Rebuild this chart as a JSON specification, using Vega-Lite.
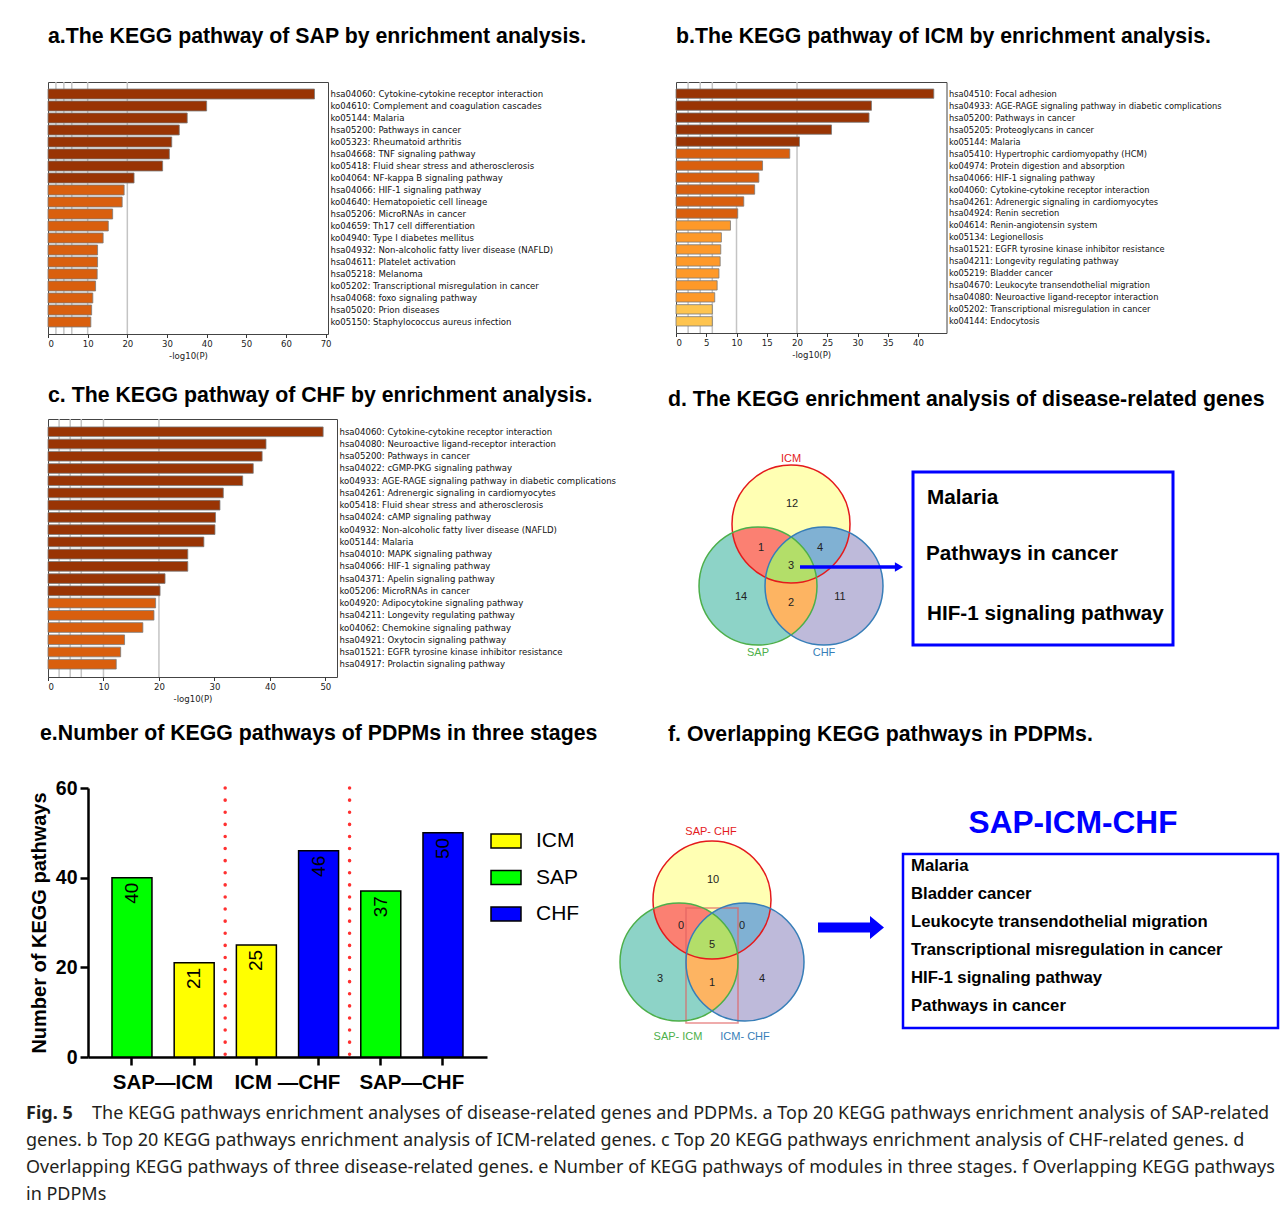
{
  "$schema": "https://vega.github.io/schema/vega-lite/v6.json",
  "background": "white",
  "padding": {"left": 26, "top": 25, "right": 5, "bottom": 5},
  "config": {
    "view": {"stroke": null},
    "title": {"font": "Liberation Sans", "fontSize": 21.3, "fontWeight": "bold", "anchor": "start", "frame": "group", "color": "black"},
    "text": {"font": "Liberation Sans"}
  },
  "spacing": 7,
  "vconcat": [
    {
      "columns": 2,
      "bounds": "flush",
      "align": "none",
      "spacing": {"row": 85, "column": 189},
      "resolve": {"scale": {"color": "independent", "fill": "independent", "stroke": "independent", "shape": "independent"}},
      "concat": [
        {
          "width": 280, "height": 252,
          "view": {"stroke": "#444", "strokeWidth": 1},
          "title": {"text": "a.The KEGG pathway of SAP by enrichment analysis.", "offset": 34},
          "data": {"values": [
            {"term": "hsa04060: Cytokine-cytokine receptor interaction", "logp": 67.2, "tier": "t1"},
            {"term": "ko04610: Complement and coagulation cascades", "logp": 40.0, "tier": "t1"},
            {"term": "ko05144: Malaria", "logp": 35.1, "tier": "t1"},
            {"term": "hsa05200: Pathways in cancer", "logp": 33.1, "tier": "t1"},
            {"term": "ko05323: Rheumatoid arthritis", "logp": 31.2, "tier": "t1"},
            {"term": "hsa04668: TNF signaling pathway", "logp": 30.6, "tier": "t1"},
            {"term": "ko05418: Fluid shear stress and atherosclerosis", "logp": 28.9, "tier": "t1"},
            {"term": "ko04064: NF-kappa B signaling pathway", "logp": 21.7, "tier": "t1"},
            {"term": "hsa04066: HIF-1 signaling pathway", "logp": 19.2, "tier": "t2"},
            {"term": "ko04640: Hematopoietic cell lineage", "logp": 18.7, "tier": "t2"},
            {"term": "hsa05206: MicroRNAs in cancer", "logp": 16.3, "tier": "t2"},
            {"term": "ko04659: Th17 cell differentiation", "logp": 15.2, "tier": "t2"},
            {"term": "ko04940: Type I diabetes mellitus", "logp": 13.9, "tier": "t2"},
            {"term": "hsa04932: Non-alcoholic fatty liver disease (NAFLD)", "logp": 12.5, "tier": "t2"},
            {"term": "hsa04611: Platelet activation", "logp": 12.5, "tier": "t2"},
            {"term": "hsa05218: Melanoma", "logp": 12.4, "tier": "t2"},
            {"term": "ko05202: Transcriptional misregulation in cancer", "logp": 12.0, "tier": "t2"},
            {"term": "hsa04068: foxo signaling pathway", "logp": 11.3, "tier": "t2"},
            {"term": "hsa05020: Prion diseases", "logp": 11.0, "tier": "t2"},
            {"term": "ko05150: Staphylococcus aureus infection", "logp": 10.8, "tier": "t2"}
          ]},
          "encoding": {
            "x": {"field": "logp", "type": "quantitative", "scale": {"domain": [0, 70.6], "nice": false},
              "axis": {"values": [0, 10, 20, 30, 40, 50, 60, 70], "grid": false, "domain": false, "tickSize": 3.5, "tickColor": "#333", "labelFont": "DejaVu Sans Condensed, DejaVu Sans", "labelFontSize": 9.5, "labelColor": "#222", "labelPadding": 1, "title": "-log10(P)", "titleFont": "DejaVu Sans Condensed, DejaVu Sans", "titleFontSize": 9.5, "titleFontWeight": "normal", "titleColor": "#222", "titlePadding": 2}}
          },
          "layer": [
            {"data": {"values": [{"logp": 2}, {"logp": 4}, {"logp": 6}, {"logp": 10}, {"logp": 20}]},
             "mark": {"type": "rule", "color": "#c4c4c4", "strokeWidth": 1.5}, "encoding": {}},
            {"mark": {"type": "bar", "stroke": "#7a7a7a", "strokeWidth": 0.8},
             "encoding": {
               "y": {"field": "term", "type": "nominal", "sort": null, "scale": {"paddingInner": 0.17, "paddingOuter": 0.585},
                 "axis": {"orient": "right", "ticks": false, "domain": false, "labelFont": "DejaVu Sans Condensed, DejaVu Sans", "labelFontSize": 9.5, "labelColor": "#111", "labelPadding": 2, "labelLimit": 600, "title": null}},
               "color": {"field": "tier", "type": "nominal", "scale": {"domain": ["t1", "t2", "t3", "t4"], "range": ["#993404", "#d95f0e", "#fe9929", "#fec44f"]}, "legend": null}
             }}
          ]
        },
        {
          "width": 270.5, "height": 251,
          "view": {"stroke": "#444", "strokeWidth": 1},
          "title": {"text": "b.The KEGG pathway of ICM by enrichment analysis.", "offset": 34},
          "data": {"values": [
            {"term": "hsa04510: Focal adhesion", "logp": 42.6, "tier": "t1"},
            {"term": "hsa04933: AGE-RAGE signaling pathway in diabetic complications", "logp": 32.3, "tier": "t1"},
            {"term": "hsa05200: Pathways in cancer", "logp": 31.9, "tier": "t1"},
            {"term": "hsa05205: Proteoglycans in cancer", "logp": 25.7, "tier": "t1"},
            {"term": "ko05144: Malaria", "logp": 20.4, "tier": "t1"},
            {"term": "hsa05410: Hypertrophic cardiomyopathy (HCM)", "logp": 18.8, "tier": "t2"},
            {"term": "ko04974: Protein digestion and absorption", "logp": 14.3, "tier": "t2"},
            {"term": "hsa04066: HIF-1 signaling pathway", "logp": 13.7, "tier": "t2"},
            {"term": "ko04060: Cytokine-cytokine receptor interaction", "logp": 13.0, "tier": "t2"},
            {"term": "hsa04261: Adrenergic signaling in cardiomyocytes", "logp": 11.2, "tier": "t2"},
            {"term": "hsa04924: Renin secretion", "logp": 10.2, "tier": "t2"},
            {"term": "ko04614: Renin-angiotensin system", "logp": 9.0, "tier": "t3"},
            {"term": "ko05134: Legionellosis", "logp": 7.5, "tier": "t3"},
            {"term": "hsa01521: EGFR tyrosine kinase inhibitor resistance", "logp": 7.4, "tier": "t3"},
            {"term": "hsa04211: Longevity regulating pathway", "logp": 7.3, "tier": "t3"},
            {"term": "ko05219: Bladder cancer", "logp": 7.1, "tier": "t3"},
            {"term": "hsa04670: Leukocyte transendothelial migration", "logp": 6.8, "tier": "t3"},
            {"term": "hsa04080: Neuroactive ligand-receptor interaction", "logp": 6.4, "tier": "t3"},
            {"term": "ko05202: Transcriptional misregulation in cancer", "logp": 6.0, "tier": "t4"},
            {"term": "ko04144: Endocytosis", "logp": 6.0, "tier": "t4"}
          ]},
          "encoding": {
            "x": {"field": "logp", "type": "quantitative", "scale": {"domain": [0, 44.7], "nice": false},
              "axis": {"values": [0, 5, 10, 15, 20, 25, 30, 35, 40], "grid": false, "domain": false, "tickSize": 3.5, "tickColor": "#333", "labelFont": "DejaVu Sans Condensed, DejaVu Sans", "labelFontSize": 9.5, "labelColor": "#222", "labelPadding": 1, "title": "-log10(P)", "titleFont": "DejaVu Sans Condensed, DejaVu Sans", "titleFontSize": 9.5, "titleFontWeight": "normal", "titleColor": "#222", "titlePadding": 2}}
          },
          "layer": [
            {"data": {"values": [{"logp": 2}, {"logp": 4}, {"logp": 6}, {"logp": 10}, {"logp": 20}]},
             "mark": {"type": "rule", "color": "#c4c4c4", "strokeWidth": 1.5}, "encoding": {}},
            {"mark": {"type": "bar", "stroke": "#7a7a7a", "strokeWidth": 0.8},
             "encoding": {
               "y": {"field": "term", "type": "nominal", "sort": null, "scale": {"paddingInner": 0.22, "paddingOuter": 0.585},
                 "axis": {"orient": "right", "ticks": false, "domain": false, "labelFont": "DejaVu Sans Condensed, DejaVu Sans", "labelFontSize": 9.2, "labelColor": "#111", "labelPadding": 2, "labelLimit": 600, "title": null}},
               "color": {"field": "tier", "type": "nominal", "scale": {"domain": ["t1", "t2", "t3", "t4"], "range": ["#993404", "#d95f0e", "#fe9929", "#fec44f"]}, "legend": null}
             }}
          ]
        },
        {
          "width": 289, "height": 258,
          "view": {"stroke": "#444", "strokeWidth": 1},
          "title": {"text": "c. The KEGG pathway of CHF by enrichment analysis.", "offset": 12},
          "data": {"values": [
            {"term": "hsa04060: Cytokine-cytokine receptor interaction", "logp": 49.6, "tier": "t1"},
            {"term": "hsa04080: Neuroactive ligand-receptor interaction", "logp": 39.3, "tier": "t1"},
            {"term": "hsa05200: Pathways in cancer", "logp": 38.6, "tier": "t1"},
            {"term": "hsa04022: cGMP-PKG signaling pathway", "logp": 37.0, "tier": "t1"},
            {"term": "ko04933: AGE-RAGE signaling pathway in diabetic complications", "logp": 35.1, "tier": "t1"},
            {"term": "hsa04261: Adrenergic signaling in cardiomyocytes", "logp": 31.6, "tier": "t1"},
            {"term": "ko05418: Fluid shear stress and atherosclerosis", "logp": 31.0, "tier": "t1"},
            {"term": "hsa04024: cAMP signaling pathway", "logp": 30.2, "tier": "t1"},
            {"term": "ko04932: Non-alcoholic fatty liver disease (NAFLD)", "logp": 30.1, "tier": "t1"},
            {"term": "ko05144: Malaria", "logp": 28.1, "tier": "t1"},
            {"term": "hsa04010: MAPK signaling pathway", "logp": 25.2, "tier": "t1"},
            {"term": "hsa04066: HIF-1 signaling pathway", "logp": 25.2, "tier": "t1"},
            {"term": "hsa04371: Apelin signaling pathway", "logp": 21.1, "tier": "t1"},
            {"term": "ko05206: MicroRNAs in cancer", "logp": 20.2, "tier": "t1"},
            {"term": "ko04920: Adipocytokine signaling pathway", "logp": 19.4, "tier": "t2"},
            {"term": "hsa04211: Longevity regulating pathway", "logp": 19.1, "tier": "t2"},
            {"term": "ko04062: Chemokine signaling pathway", "logp": 17.1, "tier": "t2"},
            {"term": "hsa04921: Oxytocin signaling pathway", "logp": 13.8, "tier": "t2"},
            {"term": "hsa01521: EGFR tyrosine kinase inhibitor resistance", "logp": 13.1, "tier": "t2"},
            {"term": "hsa04917: Prolactin signaling pathway", "logp": 12.3, "tier": "t2"}
          ]},
          "encoding": {
            "x": {"field": "logp", "type": "quantitative", "scale": {"domain": [0, 52.1], "nice": false},
              "axis": {"values": [0, 10, 20, 30, 40, 50], "grid": false, "domain": false, "tickSize": 3.5, "tickColor": "#333", "labelFont": "DejaVu Sans Condensed, DejaVu Sans", "labelFontSize": 9.5, "labelColor": "#222", "labelPadding": 1, "title": "-log10(P)", "titleFont": "DejaVu Sans Condensed, DejaVu Sans", "titleFontSize": 9.5, "titleFontWeight": "normal", "titleColor": "#222", "titlePadding": 2}}
          },
          "layer": [
            {"data": {"values": [{"logp": 2}, {"logp": 4}, {"logp": 6}, {"logp": 10}, {"logp": 20}]},
             "mark": {"type": "rule", "color": "#c4c4c4", "strokeWidth": 1.5}, "encoding": {}},
            {"mark": {"type": "bar", "stroke": "#7a7a7a", "strokeWidth": 0.8},
             "encoding": {
               "y": {"field": "term", "type": "nominal", "sort": null, "scale": {"paddingInner": 0.21, "paddingOuter": 0.65},
                 "axis": {"orient": "right", "ticks": false, "domain": false, "labelFont": "DejaVu Sans Condensed, DejaVu Sans", "labelFontSize": 9.5, "labelColor": "#111", "labelPadding": 2, "labelLimit": 600, "title": null}},
               "color": {"field": "tier", "type": "nominal", "scale": {"domain": ["t1", "t2", "t3", "t4"], "range": ["#993404", "#d95f0e", "#fe9929", "#fec44f"]}, "legend": null}
             }}
          ]
        },
        {
          "width": 504, "height": 284,
          "title": {"text": "d. The KEGG enrichment analysis of disease-related genes", "offset": 9, "dx": -8},
          "encoding": {
            "x": {"field": "x", "type": "quantitative", "scale": {"domain": [0, 504], "nice": false, "zero": false}, "axis": null},
            "y": {"field": "y", "type": "quantitative", "scale": {"domain": [0, 284], "nice": false, "zero": false, "reverse": true}, "axis": null}
          },
          "layer": [
            {"data": {"values": [{"set": "ICM", "pos": "top", "x": 115, "y": 105}, {"set": "SAP", "pos": "left", "x": 82, "y": 167}, {"set": "CHF", "pos": "right", "x": 148, "y": 167}]},
             "mark": {"type": "point", "shape": "circle", "size": 13924, "filled": true, "opacity": 1},
             "encoding": {"fill": {"field": "pos", "type": "nominal", "scale": {"domain": ["top", "left", "right", "top_left", "top_right", "left_right", "center"], "range": ["#ffffb3", "#8dd3c7", "#bebada", "#fb8072", "#80b1d3", "#fdb462", "#b3de69"]}, "legend": null}}},
            {"data": {"values": [{"pos": "top_left", "x": 115, "y": 146}, {"pos": "top_right", "x": 115, "y": 146}, {"pos": "left_right", "x": 115, "y": 146}, {"pos": "center", "x": 115, "y": 146}]},
             "mark": {"type": "point", "size": 40000, "filled": true, "opacity": 1},
             "encoding": {
               "fill": {"field": "pos", "type": "nominal", "scale": {"domain": ["top", "left", "right", "top_left", "top_right", "left_right", "center"], "range": ["#ffffb3", "#8dd3c7", "#bebada", "#fb8072", "#80b1d3", "#fdb462", "#b3de69"]}, "legend": null},
               "shape": {"field": "pos", "type": "nominal", "scale": {"domain": ["top_left", "top_right", "left_right", "center"], "range": [
                 "M 0.2535 0.1227 A 0.59 0.59 0 0 0 -0.5835 -0.3227 A 0.59 0.59 0 0 0 0.2535 0.1227 Z",
                 "M -0.2535 0.1227 A 0.59 0.59 0 0 1 0.5835 -0.3227 A 0.59 0.59 0 0 1 -0.2535 0.1227 Z",
                 "M 0 -0.2791 A 0.59 0.59 0 0 0 0 0.6991 A 0.59 0.59 0 0 0 0 -0.2791 Z",
                 "M 0 -0.2791 A 0.59 0.59 0 0 1 0.2535 0.1227 A 0.59 0.59 0 0 1 -0.2535 0.1227 A 0.59 0.59 0 0 1 0 -0.2791 Z"]}, "legend": null}
             }},
            {"data": {"values": [{"set": "ICM", "pos": "top", "x": 115, "y": 105}, {"set": "SAP", "pos": "left", "x": 82, "y": 167}, {"set": "CHF", "pos": "right", "x": 148, "y": 167}]},
             "mark": {"type": "point", "shape": "circle", "size": 13924, "filled": false, "opacity": 1, "strokeWidth": 1.5},
             "encoding": {"stroke": {"field": "pos", "type": "nominal", "scale": {"domain": ["top", "left", "right"], "range": ["#e41a1c", "#4daf4a", "#377eb8"]}, "legend": null}}},
            {"data": {"values": [{"n": "12", "x": 116, "y": 85}, {"n": "1", "x": 85, "y": 129}, {"n": "4", "x": 144, "y": 129}, {"n": "3", "x": 115, "y": 147}, {"n": "14", "x": 65, "y": 178}, {"n": "2", "x": 115, "y": 184}, {"n": "11", "x": 164, "y": 178}]},
             "mark": {"type": "text", "fontSize": 11, "color": "#222", "baseline": "middle"},
             "encoding": {"text": {"field": "n"}}},
            {"data": {"values": [{"label": "ICM", "pos": "top", "x": 115, "y": 40}, {"label": "SAP", "pos": "left", "x": 82, "y": 234}, {"label": "CHF", "pos": "right", "x": 148, "y": 234}]},
             "mark": {"type": "text", "fontSize": 11, "baseline": "middle"},
             "encoding": {"text": {"field": "label"}, "color": {"field": "pos", "type": "nominal", "scale": {"domain": ["top", "left", "right"], "range": ["#e41a1c", "#4daf4a", "#377eb8"]}, "legend": null}}},
            {"data": {"values": [{"x": 124, "x2": 220, "y": 148}]},
             "mark": {"type": "rule", "color": "#0000ff", "strokeWidth": 3.5},
             "encoding": {"x2": {"field": "x2"}}},
            {"data": {"values": [{"x": 223, "y": 148}]},
             "mark": {"type": "point", "shape": "triangle-right", "size": 90, "filled": true, "opacity": 1, "color": "#0000ff"},
             "encoding": {}},
            {"data": {"values": [{"x": 237, "x2": 497, "y": 53, "y2": 226}]},
             "mark": {"type": "rect", "fill": "white", "fillOpacity": 0, "stroke": "#0000ff", "strokeWidth": 3},
             "encoding": {"x2": {"field": "x2"}, "y2": {"field": "y2"}}},
            {"data": {"values": [{"t": "Malaria", "x": 251, "y": 79}, {"t": "Pathways in cancer", "x": 250, "y": 135}, {"t": "HIF-1 signaling pathway", "x": 251, "y": 195}]},
             "mark": {"type": "text", "align": "left", "baseline": "middle", "fontSize": 20.7, "fontWeight": "bold", "color": "black"},
             "encoding": {"text": {"field": "t"}}}
          ]
        },
        {
          "width": 439, "height": 269,
          "title": {"text": "e.Number of KEGG pathways of PDPMs in three stages", "offset": 34, "dx": -8},
          "data": {"values": [
            {"bar": "1", "disease": "SAP", "n": 40},
            {"bar": "2", "disease": "ICM", "n": 21},
            {"bar": "3", "disease": "ICM", "n": 25},
            {"bar": "4", "disease": "CHF", "n": 46},
            {"bar": "5", "disease": "SAP", "n": 37},
            {"bar": "6", "disease": "CHF", "n": 50}
          ]},
          "encoding": {
            "x": {"field": "bar", "type": "nominal", "sort": null,
              "scale": {"paddingInner": 0.357, "paddingOuter": 0.7074, "align": 0.727},
              "axis": {"domainDash": [0, 40, 1000], "domainWidth": 2.5, "domainColor": "black", "tickWidth": 2.5, "tickColor": "black", "tickSize": 8,
                "labelExpr": "datum.value == '1' ? 'SAP—ICM' : datum.value == '3' ? 'ICM —CHF' : datum.value == '5' ? 'SAP—CHF' : ''",
                "labelOffset": 31, "labelAngle": 0, "labelAlign": "center", "labelFont": "Liberation Sans", "labelFontSize": 20.5, "labelFontWeight": "bold", "labelColor": "black", "labelPadding": 7, "title": null}}
          },
          "layer": [
            {"mark": {"type": "bar", "stroke": "black", "strokeWidth": 1.5},
             "encoding": {
               "y": {"field": "n", "type": "quantitative", "scale": {"domain": [0, 60], "nice": false},
                 "axis": {"values": [0, 20, 40, 60], "offset": -40, "grid": false, "domainWidth": 2.5, "domainColor": "black", "tickWidth": 2.5, "tickColor": "black", "tickSize": 8,
                   "labelFont": "Liberation Sans", "labelFontSize": 19.5, "labelFontWeight": "bold", "labelColor": "black", "labelPadding": 3,
                   "title": "Number of KEGG pathways", "titleFont": "Liberation Sans", "titleFontSize": 20, "titleFontWeight": "bold", "titleColor": "black", "titlePadding": 6}},
               "color": {"field": "disease", "type": "nominal", "scale": {"domain": ["ICM", "SAP", "CHF"], "range": ["#ffff00", "#00ff00", "#0000ff"]},
                 "legend": {"orient": "none", "legendX": 442, "legendY": 37, "title": null, "padding": 0, "symbolType": "M -1 -0.467 H 1 V 0.467 H -1 Z", "symbolSize": 900, "symbolStrokeColor": "black", "symbolStrokeWidth": 1.5, "symbolOpacity": 1, "labelFont": "Liberation Sans", "labelFontSize": 21, "labelColor": "black", "labelOffset": 14, "rowPadding": 9.5}}
             }},
            {"mark": {"type": "text", "angle": 270, "align": "right", "baseline": "middle", "dx": -5, "fontSize": 19, "color": "black"},
             "encoding": {"y": {"field": "n", "type": "quantitative"}, "text": {"field": "n", "type": "quantitative"}}},
            {"data": {"values": [{"bar": "2"}, {"bar": "4"}]},
             "mark": {"type": "rule", "color": "#ff3030", "strokeWidth": 3.5, "strokeDash": [0.1, 12], "strokeCap": "round"},
             "encoding": {"x": {"field": "bar", "type": "nominal", "bandPosition": 1.275}}}
          ]
        },
        {
          "width": 604, "height": 269,
          "title": {"text": "f. Overlapping KEGG pathways in PDPMs.", "offset": 43, "dx": -8},
          "encoding": {
            "x": {"field": "x", "type": "quantitative", "scale": {"domain": [0, 604], "nice": false, "zero": false}, "axis": null},
            "y": {"field": "y", "type": "quantitative", "scale": {"domain": [0, 269], "nice": false, "zero": false, "reverse": true}, "axis": null}
          },
          "layer": [
            {"data": {"values": [{"set": "SAP-CHF", "pos": "top", "x": 36, "y": 112}, {"set": "SAP-ICM", "pos": "left", "x": 3, "y": 174}, {"set": "ICM-CHF", "pos": "right", "x": 69, "y": 174}]},
             "mark": {"type": "point", "shape": "circle", "size": 13924, "filled": true, "opacity": 1},
             "encoding": {"fill": {"field": "pos", "type": "nominal", "scale": {"domain": ["top", "left", "right", "top_left", "top_right", "left_right", "center"], "range": ["#ffffb3", "#8dd3c7", "#bebada", "#fb8072", "#80b1d3", "#fdb462", "#b3de69"]}, "legend": null}}},
            {"data": {"values": [{"pos": "top_left", "x": 36, "y": 153}, {"pos": "top_right", "x": 36, "y": 153}, {"pos": "left_right", "x": 36, "y": 153}, {"pos": "center", "x": 36, "y": 153}]},
             "mark": {"type": "point", "size": 40000, "filled": true, "opacity": 1},
             "encoding": {
               "fill": {"field": "pos", "type": "nominal", "scale": {"domain": ["top", "left", "right", "top_left", "top_right", "left_right", "center"], "range": ["#ffffb3", "#8dd3c7", "#bebada", "#fb8072", "#80b1d3", "#fdb462", "#b3de69"]}, "legend": null},
               "shape": {"field": "pos", "type": "nominal", "scale": {"domain": ["top_left", "top_right", "left_right", "center"], "range": [
                 "M 0.2535 0.1227 A 0.59 0.59 0 0 0 -0.5835 -0.3227 A 0.59 0.59 0 0 0 0.2535 0.1227 Z",
                 "M -0.2535 0.1227 A 0.59 0.59 0 0 1 0.5835 -0.3227 A 0.59 0.59 0 0 1 -0.2535 0.1227 Z",
                 "M 0 -0.2791 A 0.59 0.59 0 0 0 0 0.6991 A 0.59 0.59 0 0 0 0 -0.2791 Z",
                 "M 0 -0.2791 A 0.59 0.59 0 0 1 0.2535 0.1227 A 0.59 0.59 0 0 1 -0.2535 0.1227 A 0.59 0.59 0 0 1 0 -0.2791 Z"]}, "legend": null}
             }},
            {"data": {"values": [{"x": 10, "x2": 62, "y": 120, "y2": 235}]},
             "mark": {"type": "rect", "fill": "white", "fillOpacity": 0, "stroke": "#e06060", "strokeWidth": 1.5, "strokeOpacity": 0.7},
             "encoding": {"x2": {"field": "x2"}, "y2": {"field": "y2"}}},
            {"data": {"values": [{"set": "SAP-CHF", "pos": "top", "x": 36, "y": 112}, {"set": "SAP-ICM", "pos": "left", "x": 3, "y": 174}, {"set": "ICM-CHF", "pos": "right", "x": 69, "y": 174}]},
             "mark": {"type": "point", "shape": "circle", "size": 13924, "filled": false, "opacity": 1, "strokeWidth": 1.5},
             "encoding": {"stroke": {"field": "pos", "type": "nominal", "scale": {"domain": ["top", "left", "right"], "range": ["#e41a1c", "#4daf4a", "#377eb8"]}, "legend": null}}},
            {"data": {"values": [{"n": "10", "x": 37, "y": 92}, {"n": "0", "x": 5, "y": 138}, {"n": "0", "x": 66, "y": 138}, {"n": "5", "x": 36, "y": 157}, {"n": "3", "x": -16, "y": 191}, {"n": "1", "x": 36, "y": 195}, {"n": "4", "x": 86, "y": 191}]},
             "mark": {"type": "text", "fontSize": 11, "color": "#222", "baseline": "middle"},
             "encoding": {"text": {"field": "n"}}},
            {"data": {"values": [{"label": "SAP- CHF", "pos": "top", "x": 35, "y": 44}, {"label": "SAP- ICM", "pos": "left", "x": 2, "y": 249}, {"label": "ICM- CHF", "pos": "right", "x": 69, "y": 249}]},
             "mark": {"type": "text", "fontSize": 11, "baseline": "middle"},
             "encoding": {"text": {"field": "label"}, "color": {"field": "pos", "type": "nominal", "scale": {"domain": ["top", "left", "right"], "range": ["#e41a1c", "#4daf4a", "#377eb8"]}, "legend": null}}},
            {"data": {"values": [{"x": 175, "y": 139.5}]},
             "mark": {"type": "point", "shape": "M -0.33 -0.05 L 0.19 -0.05 L 0.19 -0.115 L 0.33 0 L 0.19 0.115 L 0.19 0.05 L -0.33 0.05 Z", "size": 40000, "filled": true, "opacity": 1, "color": "#0000ff"},
             "encoding": {}},
            {"data": {"values": [{"t": "SAP-ICM-CHF", "x": 397, "y": 36}]},
             "mark": {"type": "text", "align": "center", "baseline": "middle", "fontSize": 31.6, "fontWeight": "bold", "color": "#0000ff"},
             "encoding": {"text": {"field": "t"}}},
            {"data": {"values": [{"x": 227, "x2": 602, "y": 66, "y2": 240}]},
             "mark": {"type": "rect", "fill": "white", "fillOpacity": 0, "stroke": "#0000ff", "strokeWidth": 2.5},
             "encoding": {"x2": {"field": "x2"}, "y2": {"field": "y2"}}},
            {"data": {"values": [
               {"t": "Malaria", "x": 235, "y": 78},
               {"t": "Bladder cancer", "x": 235, "y": 106},
               {"t": "Leukocyte transendothelial migration", "x": 235, "y": 134},
               {"t": "Transcriptional misregulation in cancer", "x": 235, "y": 162},
               {"t": "HIF-1 signaling pathway", "x": 235, "y": 190},
               {"t": "Pathways in cancer", "x": 235, "y": 218}]},
             "mark": {"type": "text", "align": "left", "baseline": "middle", "fontSize": 16.7, "fontWeight": "bold", "color": "black"},
             "encoding": {"text": {"field": "t"}}}
          ]
        }
      ]
    },
    {
      "width": 1230, "height": 108,
      "encoding": {
        "x": {"datum": 0, "type": "quantitative", "scale": {"domain": [0, 1]}, "axis": null},
        "y": {"field": "line", "type": "quantitative", "scale": {"domain": [0.5, 4.5], "reverse": true, "nice": false, "zero": false}, "axis": null},
        "text": {"field": "text"}
      },
      "layer": [
        {"data": {"values": [{"line": 1, "text": "Fig. 5"}]},
         "mark": {"type": "text", "align": "left", "baseline": "middle", "dx": -22, "font": "Noto Sans", "fontSize": 18, "fontWeight": "bold", "color": "#231f20"}},
        {"data": {"values": [{"line": 1, "text": "The KEGG pathways enrichment analyses of disease-related genes and PDPMs. a Top 20 KEGG pathways enrichment analysis of SAP-related"}]},
         "mark": {"type": "text", "align": "left", "baseline": "middle", "dx": 44, "font": "Noto Sans", "fontSize": 18, "color": "#231f20"}},
        {"data": {"values": [
           {"line": 2, "text": "genes. b Top 20 KEGG pathways enrichment analysis of ICM-related genes. c Top 20 KEGG pathways enrichment analysis of CHF-related genes. d"},
           {"line": 3, "text": "Overlapping KEGG pathways of three disease-related genes. e Number of KEGG pathways of modules in three stages. f Overlapping KEGG pathways"},
           {"line": 4, "text": "in PDPMs"}]},
         "mark": {"type": "text", "align": "left", "baseline": "middle", "dx": -22, "font": "Noto Sans", "fontSize": 18, "color": "#231f20"}}
      ]
    }
  ]
}
